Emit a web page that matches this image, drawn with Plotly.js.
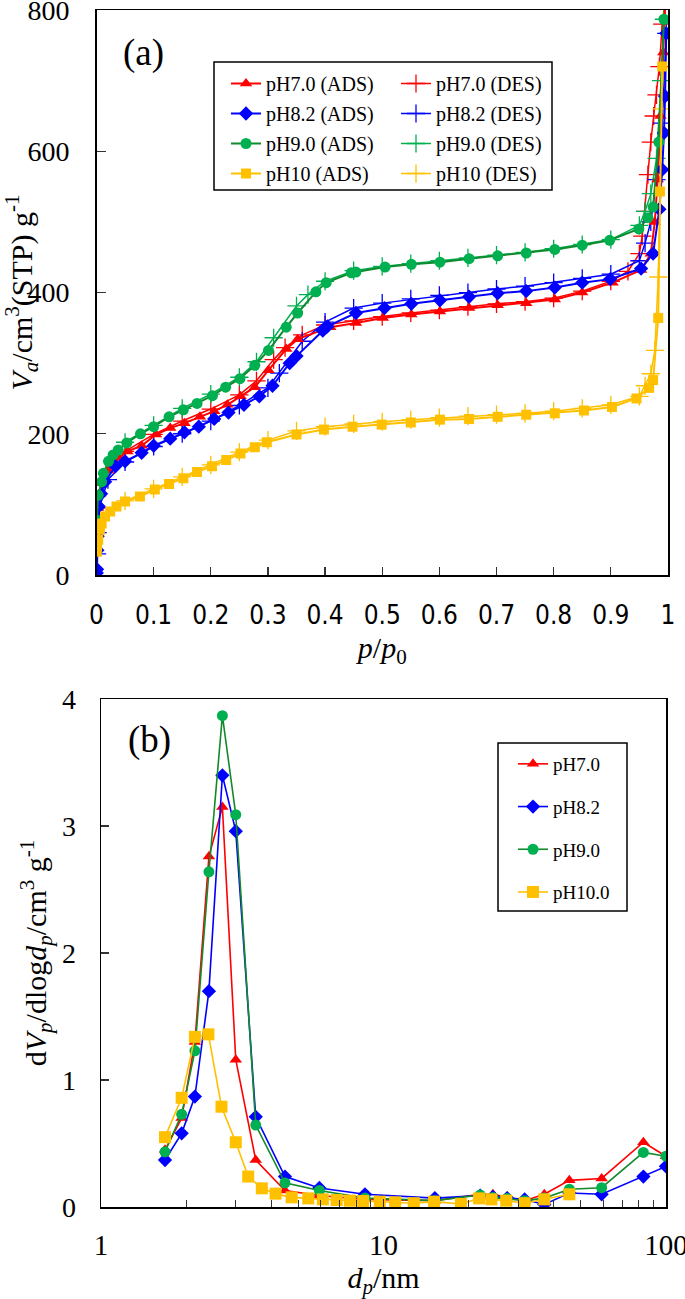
<!DOCTYPE html>
<html>
<head>
<meta charset="utf-8">
<script src="https://cdn.plot.ly/plotly-3.0.1.min.js"></script>
<style>html,body{margin:0;padding:0;background:#fff;}#chart{width:685px;height:1299px;}</style>
</head>
<body>
<div id="chart"></div>
<script>
// ---------- (a) N2 adsorption / desorption isotherms ----------
const pR_ads = [0.001,0.003,0.006,0.01,0.02,0.03,0.04,0.054,0.079,0.104,0.129,0.154,0.181,0.206,0.229,0.252,0.277,0.301,0.332,0.352,0.409,0.454,0.501,0.551,0.601,0.652,0.702,0.752,0.802,0.85,0.903,0.953,0.97,0.977,0.982,0.987,0.992,0.996];
const vR_ads = [60,95,115,130,148,158,166,175,183,199,208,215,224,232,241,253,266,290,320,334,351,357,364,369,373,378,382,385,390,400,414,432,455,500,560,650,740,820];
const pR_des = [0.996,0.99,0.985,0.98,0.975,0.97,0.965,0.96,0.955,0.95,0.93,0.9,0.85,0.8,0.75,0.7,0.65,0.6,0.55,0.5,0.45,0.4,0.36,0.33,0.31,0.28,0.25,0.2,0.15,0.1,0.05];
const vR_des = [820,780,720,680,650,613,567,515,480,455,430,416,402,392,387,384,380,375,371,366,360,354,340,322,305,275,255,235,218,199,175];

const pB_ads = [0.0005,0.001,0.0015,0.002,0.003,0.004,0.008,0.015,0.033,0.05,0.079,0.1,0.129,0.154,0.179,0.206,0.231,0.258,0.285,0.308,0.338,0.35,0.396,0.404,0.454,0.504,0.551,0.601,0.652,0.702,0.752,0.802,0.85,0.899,0.953,0.974,0.985,0.99,0.993,0.995,0.997];
const vB_ads = [3,8,35,55,75,97,115,132,154,161,173,183,193,202,210,221,230,241,253,268,300,310,346,352,371,378,384,389,394,399,402,407,414,419,434,455,518,574,626,678,767];
const pB_des = [0.997,0.99,0.98,0.97,0.96,0.95,0.9,0.85,0.8,0.75,0.7,0.65,0.6,0.55,0.5,0.45,0.4,0.36,0.32,0.3,0.25,0.2,0.15,0.1,0.05,0.02,0.005,0.002,0.001];
const vB_des = [767,640,560,500,470,445,426,420,414,409,405,400,396,391,385,378,358,331,286,265,240,218,200,182,160,135,95,60,30];

const pG_ads = [0.0005,0.003,0.009,0.012,0.021,0.029,0.038,0.053,0.077,0.1,0.127,0.152,0.176,0.203,0.226,0.251,0.277,0.301,0.332,0.352,0.384,0.402,0.446,0.454,0.505,0.551,0.601,0.652,0.702,0.752,0.802,0.85,0.898,0.949,0.965,0.974,0.984,0.993];
const vG_ads = [78,113,132,144,161,170,177,187,200,210,224,234,243,254,266,278,297,318,351,371,401,414,428,429,436,440,443,448,452,456,461,467,474,490,506,521,613,787];
const pG_des = [0.993,0.988,0.98,0.97,0.96,0.95,0.9,0.85,0.8,0.75,0.7,0.65,0.6,0.55,0.5,0.45,0.4,0.37,0.35,0.31,0.28,0.25,0.2,0.15,0.1,0.05];
const vG_des = [787,700,590,540,515,495,475,468,462,457,453,449,445,441,437,431,416,397,381,336,302,280,256,236,212,188];

const pY_ads = [0.0005,0.001,0.003,0.006,0.009,0.015,0.024,0.035,0.05,0.076,0.102,0.127,0.152,0.176,0.202,0.227,0.252,0.277,0.298,0.35,0.398,0.448,0.499,0.55,0.601,0.652,0.702,0.752,0.802,0.853,0.902,0.945,0.967,0.974,0.983,0.986,0.99];
const vY_ads = [33,40,50,64,73,83,90,97,104,111,121,129,137,146,154,163,172,181,188,199,206,210,213,216,220,221,224,227,229,233,238,250,265,276,364,543,720];
const pY_des = [0.996,0.989,0.983,0.977,0.97,0.96,0.95,0.9,0.85,0.8,0.75,0.7,0.65,0.6,0.55,0.5,0.45,0.4,0.35,0.3,0.25,0.2,0.15,0.1,0.05];
const vY_des = [840,660,422,318,285,268,253,241,236,232,229,227,225,223,220,217,214,210,204,191,174,156,139,122,105];

const namesA = ['pH7.0 (ADS)','pH8.2 (ADS)','pH9.0 (ADS)','pH10 (ADS)'];
const namesD = ['pH7.0 (DES)','pH8.2 (DES)','pH9.0 (DES)','pH10 (DES)'];
const ticksA_y = [0,200,400,600,800];

// ---------- (b) pore size distributions ----------
const dRGB = [1.685,1.93,2.15,2.41,2.69,3.0,3.53,4.48,5.93,8.6,15.2,22.0,24.4,27.4,31.6,37.1,45.5,59.2,83.2,100];
const psdR = [0.45,0.70,1.30,2.76,3.15,1.16,0.37,0.13,0.09,0.06,0.05,0.10,0.10,0.08,0.05,0.10,0.21,0.225,0.51,0.40];
const psdB = [0.37,0.58,0.87,1.70,3.40,2.96,0.71,0.24,0.15,0.10,0.07,0.09,0.08,0.07,0.06,0.02,0.11,0.10,0.24,0.32];
const psdG = [0.435,0.73,1.23,2.64,3.87,3.09,0.645,0.19,0.13,0.07,0.05,0.094,0.075,0.066,0.05,0.07,0.14,0.152,0.43,0.40];
const dY = [1.685,1.93,2.15,2.40,2.67,3.0,3.32,3.71,4.15,4.73,5.42,6.1,6.83,7.6,8.47,9.7,11.0,12.8,15.1,18.8,21.8,24.1,27.2,31.6,37.1,45.5];
const psdY = [0.55,0.86,1.34,1.36,0.79,0.51,0.24,0.147,0.105,0.076,0.068,0.06,0.055,0.05,0.047,0.042,0.037,0.03,0.042,0.024,0.068,0.06,0.05,0.03,0.06,0.10];
const namesB = ['pH7.0','pH8.2','pH9.0','pH10.0'];
const ticksB_x = [1,10,100];
const ticksB_y = [0,1,2,3,4];

// ---------- styles ----------
const W = 685, H = 1299;
const fx = v => v / W, fy = v => 1 - v / H;
const SERIF = 'Liberation Serif, Times New Roman, serif';
const SANS = 'DejaVu Sans Condensed, DejaVu Sans, sans-serif';
const RED = '#FF0000', BLUE = '#0000FF', GRN = '#00B050', GRNL = '#0F8A2E', YEL = '#FFC000';

const traces = [];
const adsSets = [[pR_ads,vR_ads,RED,RED,'triangle-up',11],[pB_ads,vB_ads,BLUE,BLUE,'diamond',11],[pG_ads,vG_ads,GRN,GRNL,'circle',11],[pY_ads,vY_ads,YEL,YEL,'square',10]];
const desSets = [[pR_des,vR_des,RED],[pB_des,vB_des,BLUE],[pG_des,vG_des,GRN],[pY_des,vY_des,YEL]];
desSets.forEach((s,i)=>{
  traces.push({x:s[0],y:s[1],xaxis:'x',yaxis:'y',mode:'lines+markers',name:namesD[i],legend:'legend2',legendgroup:'d'+i,
    line:{color:s[2],width:1.5},marker:{symbol:'cross-thin',size:13,color:s[2],line:{color:s[2],width:1.3}}});
});
adsSets.forEach((s,i)=>{
  traces.push({x:s[0],y:s[1],xaxis:'x',yaxis:'y',mode:'lines+markers',name:namesA[i],legend:'legend',legendgroup:'a'+i,
    line:{color:s[3],width:2},marker:{symbol:s[4],size:s[5],color:s[2]}});
});
const psdSets = [[dRGB,psdR,RED,RED,'triangle-up',11],[dRGB,psdB,BLUE,BLUE,'diamond',11],[dRGB,psdG,GRN,'#128A2A','circle',11],[dY,psdY,YEL,YEL,'square',12]];
psdSets.forEach((s,i)=>{
  traces.push({x:s[0],y:s[1],xaxis:'x2',yaxis:'y2',mode:'lines+markers',name:namesB[i],legend:'legend3',legendgroup:'b'+i,
    line:{color:s[3],width:1.6},marker:{symbol:s[4],size:s[5],color:s[2]}});
});

const axCommon = {showline:true,mirror:true,linecolor:'#000',linewidth:1.5,ticks:'inside',tickcolor:'#333',tickwidth:1.2,
  showgrid:false,zeroline:false,fixedrange:true,ticklabeloverflow:'allow'};

const layout = {
  width:W,height:H,margin:{l:0,r:0,t:0,b:0},paper_bgcolor:'#fff',plot_bgcolor:'#fff',
  font:{family:SERIF,color:'#000'},
  xaxis:Object.assign({},axCommon,{domain:[fx(96.5),fx(668)],anchor:'y',range:[0,1.0001],dtick:0.1,tick0:0,ticklen:8,
    tickfont:{family:SANS,size:26},ticklabelstandoff:16,
    title:{text:'<i>p</i>/<i>p</i><sub>0</sub>',font:{family:SERIF,size:30},standoff:8}}),
  yaxis:Object.assign({},axCommon,{domain:[fy(575),fy(10)],anchor:'x',range:[0,800.1],tickmode:'array',tickvals:ticksA_y,ticklen:9,
    tickfont:{family:SERIF,size:28},ticklabelstandoff:20,
    title:{text:'<i>V</i><sub><i>a</i></sub>/cm<sup>3</sup>(STP) g<sup>-1</sup>',font:{family:SERIF,size:30},standoff:2}}),
  xaxis2:Object.assign({},axCommon,{domain:[fx(101),fx(666)],anchor:'y2',type:'log',range:[0,2.0002],
    tickmode:'array',tickvals:ticksB_x,ticktext:ticksB_x.map(String),ticklen:8,
    minor:{ticks:'inside',ticklen:7,tickcolor:'#333',tickwidth:1,tickmode:'array',tickvals:[2,3,4,5,6,7,8,9,20,30,40,50,60,70,80,90]},
    tickfont:{family:SERIF,size:29},ticklabelstandoff:12,
    title:{text:'<i>d</i><sub><i>p</i></sub>/nm',font:{family:SERIF,size:30},standoff:9}}),
  yaxis2:Object.assign({},axCommon,{domain:[fy(1207),fy(699)],anchor:'x2',range:[0,4.001],tickmode:'array',tickvals:ticksB_y,ticklen:8,
    tickfont:{family:SERIF,size:28},ticklabelstandoff:18,
    title:{text:'d<i>V</i><sub><i>p</i></sub>/dlog<i>d</i><sub><i>p</i></sub>/cm<sup>3</sup> g<sup>-1</sup>',font:{family:SERIF,size:30},standoff:6}}),
  legend:{x:fx(226),y:fy(64),xanchor:'left',yanchor:'top',bgcolor:'rgba(0,0,0,0)',borderwidth:0,
    font:{family:SERIF,size:20},tracegroupgap:1,itemclick:false},
  legend2:{x:fx(396),y:fy(64),xanchor:'left',yanchor:'top',bgcolor:'rgba(0,0,0,0)',borderwidth:0,
    font:{family:SERIF,size:20},tracegroupgap:1,itemclick:false},
  legend3:{x:fx(513),y:fy(745),xanchor:'left',yanchor:'top',bgcolor:'rgba(0,0,0,0)',borderwidth:0,
    font:{family:SERIF,size:19},tracegroupgap:15,itemclick:false},
  shapes:[
    {type:'rect',xref:'paper',yref:'paper',x0:fx(214),x1:fx(552),y0:fy(190),y1:fy(62),line:{color:'#000',width:1.5}},
    {type:'rect',xref:'paper',yref:'paper',x0:fx(498),x1:fx(627),y0:fy(911),y1:fy(743),line:{color:'#000',width:1.5}}
  ],
  annotations:[
    {text:'(a)',xref:'paper',yref:'paper',x:fx(143),y:fy(53),xanchor:'center',yanchor:'middle',showarrow:false,font:{family:SERIF,size:37}},
    {text:'(b)',xref:'paper',yref:'paper',x:fx(149),y:fy(740),xanchor:'center',yanchor:'middle',showarrow:false,font:{family:SERIF,size:37}}
  ],
  showlegend:true
};

Plotly.newPlot('chart',traces,layout,{displayModeBar:false,staticPlot:true});
</script>
</body>
</html>
